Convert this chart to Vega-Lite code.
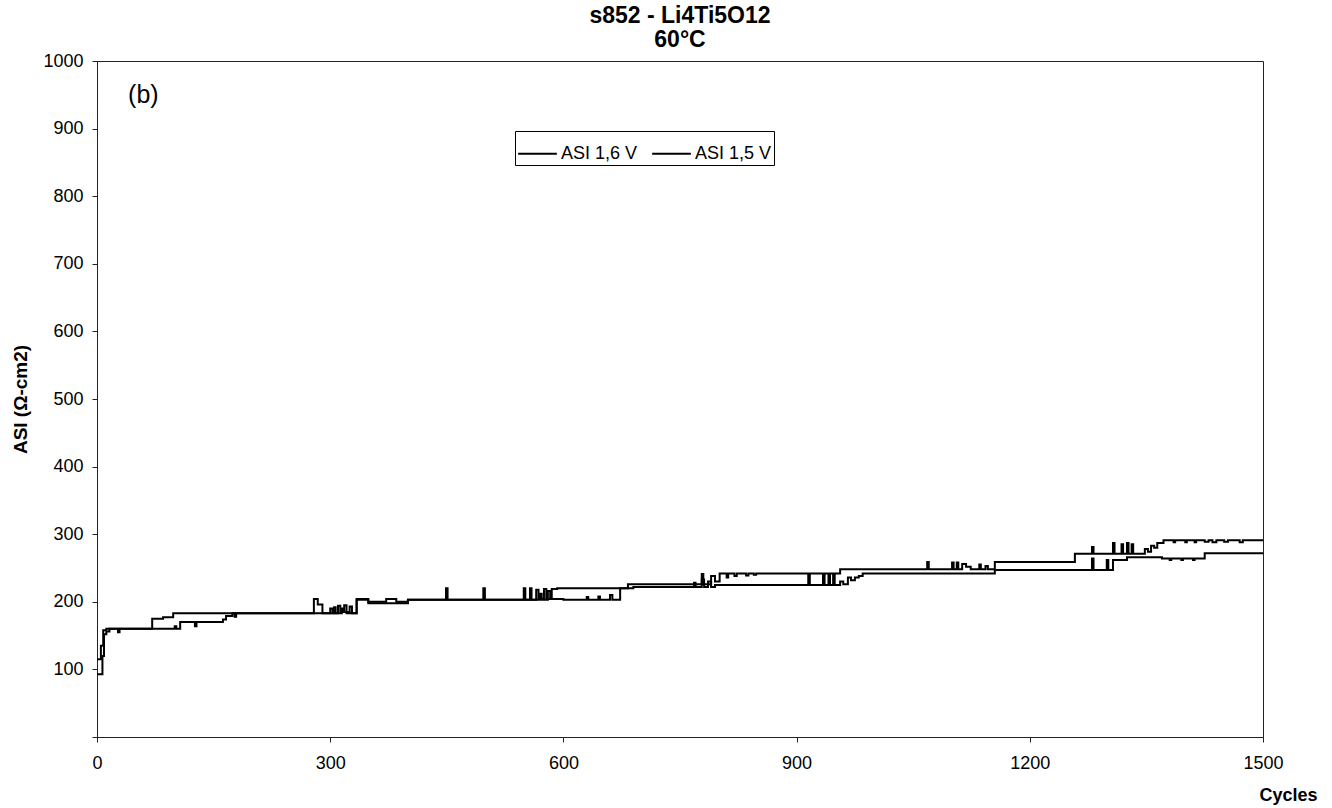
{
  "$schema": "https://vega.github.io/schema/vega-lite/v6.json",
  "width": 1166,
  "height": 676,
  "autosize": "none",
  "padding": {"left": 97, "top": 61, "right": 69, "bottom": 71},
  "background": "white",
  "config": {
    "font": "Liberation Sans",
    "view": {"stroke": "#222", "strokeWidth": 1}
  },
  "title": {
    "text": ["s852 - Li4Ti5O12", "60°C"],
    "fontSize": 23,
    "fontWeight": "bold",
    "font": "Liberation Sans",
    "lineHeight": 24,
    "offset": 0,
    "anchor": "middle",
    "color": "black"
  },
  "datasets": {
    "asi": [
      {"s": "ASI 1,6 V", "c": 0, "v": 115},
      {"s": "ASI 1,6 V", "c": 5, "v": 135},
      {"s": "ASI 1,6 V", "c": 8, "v": 158},
      {"s": "ASI 1,6 V", "c": 12, "v": 160},
      {"s": "ASI 1,6 V", "c": 27, "v": 155},
      {"s": "ASI 1,6 V", "c": 29, "v": 160},
      {"s": "ASI 1,6 V", "c": 71, "v": 175},
      {"s": "ASI 1,6 V", "c": 85, "v": 177},
      {"s": "ASI 1,6 V", "c": 98, "v": 183},
      {"s": "ASI 1,6 V", "c": 279, "v": 204},
      {"s": "ASI 1,6 V", "c": 284, "v": 196},
      {"s": "ASI 1,6 V", "c": 290, "v": 183},
      {"s": "ASI 1,6 V", "c": 300, "v": 190},
      {"s": "ASI 1,6 V", "c": 303, "v": 183},
      {"s": "ASI 1,6 V", "c": 310, "v": 194},
      {"s": "ASI 1,6 V", "c": 313, "v": 185},
      {"s": "ASI 1,6 V", "c": 318, "v": 195},
      {"s": "ASI 1,6 V", "c": 321, "v": 183},
      {"s": "ASI 1,6 V", "c": 334, "v": 204},
      {"s": "ASI 1,6 V", "c": 349, "v": 198},
      {"s": "ASI 1,6 V", "c": 400, "v": 203},
      {"s": "ASI 1,6 V", "c": 449, "v": 220},
      {"s": "ASI 1,6 V", "c": 451, "v": 203},
      {"s": "ASI 1,6 V", "c": 497, "v": 220},
      {"s": "ASI 1,6 V", "c": 499, "v": 203},
      {"s": "ASI 1,6 V", "c": 549, "v": 220},
      {"s": "ASI 1,6 V", "c": 551, "v": 203},
      {"s": "ASI 1,6 V", "c": 557, "v": 220},
      {"s": "ASI 1,6 V", "c": 559, "v": 203},
      {"s": "ASI 1,6 V", "c": 565, "v": 218},
      {"s": "ASI 1,6 V", "c": 568, "v": 205},
      {"s": "ASI 1,6 V", "c": 575, "v": 219},
      {"s": "ASI 1,6 V", "c": 578, "v": 204},
      {"s": "ASI 1,6 V", "c": 585, "v": 219},
      {"s": "ASI 1,6 V", "c": 592, "v": 220},
      {"s": "ASI 1,6 V", "c": 683, "v": 226},
      {"s": "ASI 1,6 V", "c": 778, "v": 241},
      {"s": "ASI 1,6 V", "c": 780, "v": 226},
      {"s": "ASI 1,6 V", "c": 790, "v": 238},
      {"s": "ASI 1,6 V", "c": 795, "v": 230},
      {"s": "ASI 1,6 V", "c": 801, "v": 242},
      {"s": "ASI 1,6 V", "c": 810, "v": 236},
      {"s": "ASI 1,6 V", "c": 812, "v": 242},
      {"s": "ASI 1,6 V", "c": 820, "v": 238},
      {"s": "ASI 1,6 V", "c": 823, "v": 242},
      {"s": "ASI 1,6 V", "c": 835, "v": 239},
      {"s": "ASI 1,6 V", "c": 838, "v": 242},
      {"s": "ASI 1,6 V", "c": 845, "v": 240},
      {"s": "ASI 1,6 V", "c": 848, "v": 242},
      {"s": "ASI 1,6 V", "c": 956, "v": 248},
      {"s": "ASI 1,6 V", "c": 1068, "v": 259},
      {"s": "ASI 1,6 V", "c": 1070, "v": 248},
      {"s": "ASI 1,6 V", "c": 1100, "v": 258},
      {"s": "ASI 1,6 V", "c": 1102, "v": 248},
      {"s": "ASI 1,6 V", "c": 1106, "v": 258},
      {"s": "ASI 1,6 V", "c": 1108, "v": 248},
      {"s": "ASI 1,6 V", "c": 1113, "v": 256},
      {"s": "ASI 1,6 V", "c": 1118, "v": 252},
      {"s": "ASI 1,6 V", "c": 1124, "v": 248},
      {"s": "ASI 1,6 V", "c": 1135, "v": 255},
      {"s": "ASI 1,6 V", "c": 1137, "v": 248},
      {"s": "ASI 1,6 V", "c": 1143, "v": 253},
      {"s": "ASI 1,6 V", "c": 1146, "v": 248},
      {"s": "ASI 1,6 V", "c": 1155, "v": 259},
      {"s": "ASI 1,6 V", "c": 1258, "v": 271},
      {"s": "ASI 1,6 V", "c": 1280, "v": 281},
      {"s": "ASI 1,6 V", "c": 1282, "v": 271},
      {"s": "ASI 1,6 V", "c": 1307, "v": 287},
      {"s": "ASI 1,6 V", "c": 1309, "v": 271},
      {"s": "ASI 1,6 V", "c": 1318, "v": 285},
      {"s": "ASI 1,6 V", "c": 1320, "v": 271},
      {"s": "ASI 1,6 V", "c": 1325, "v": 287},
      {"s": "ASI 1,6 V", "c": 1327, "v": 271},
      {"s": "ASI 1,6 V", "c": 1331, "v": 285},
      {"s": "ASI 1,6 V", "c": 1333, "v": 271},
      {"s": "ASI 1,6 V", "c": 1348, "v": 278},
      {"s": "ASI 1,6 V", "c": 1352, "v": 274},
      {"s": "ASI 1,6 V", "c": 1356, "v": 283},
      {"s": "ASI 1,6 V", "c": 1360, "v": 280},
      {"s": "ASI 1,6 V", "c": 1364, "v": 287},
      {"s": "ASI 1,6 V", "c": 1372, "v": 291},
      {"s": "ASI 1,6 V", "c": 1385, "v": 288},
      {"s": "ASI 1,6 V", "c": 1387, "v": 291},
      {"s": "ASI 1,6 V", "c": 1400, "v": 288},
      {"s": "ASI 1,6 V", "c": 1402, "v": 291},
      {"s": "ASI 1,6 V", "c": 1412, "v": 288},
      {"s": "ASI 1,6 V", "c": 1414, "v": 291},
      {"s": "ASI 1,6 V", "c": 1425, "v": 289},
      {"s": "ASI 1,6 V", "c": 1430, "v": 291},
      {"s": "ASI 1,6 V", "c": 1435, "v": 288},
      {"s": "ASI 1,6 V", "c": 1440, "v": 291},
      {"s": "ASI 1,6 V", "c": 1450, "v": 289},
      {"s": "ASI 1,6 V", "c": 1455, "v": 291},
      {"s": "ASI 1,6 V", "c": 1470, "v": 288},
      {"s": "ASI 1,6 V", "c": 1474, "v": 291},
      {"s": "ASI 1,6 V", "c": 1500, "v": 291},
      {"s": "ASI 1,5 V", "c": 0, "v": 93},
      {"s": "ASI 1,5 V", "c": 7, "v": 120},
      {"s": "ASI 1,5 V", "c": 9, "v": 152},
      {"s": "ASI 1,5 V", "c": 12, "v": 156},
      {"s": "ASI 1,5 V", "c": 16, "v": 160},
      {"s": "ASI 1,5 V", "c": 98, "v": 160},
      {"s": "ASI 1,5 V", "c": 100, "v": 164},
      {"s": "ASI 1,5 V", "c": 102, "v": 160},
      {"s": "ASI 1,5 V", "c": 107, "v": 170},
      {"s": "ASI 1,5 V", "c": 126, "v": 164},
      {"s": "ASI 1,5 V", "c": 128, "v": 170},
      {"s": "ASI 1,5 V", "c": 162, "v": 174},
      {"s": "ASI 1,5 V", "c": 166, "v": 179},
      {"s": "ASI 1,5 V", "c": 174, "v": 183},
      {"s": "ASI 1,5 V", "c": 177, "v": 178},
      {"s": "ASI 1,5 V", "c": 179, "v": 183},
      {"s": "ASI 1,5 V", "c": 305, "v": 192},
      {"s": "ASI 1,5 V", "c": 307, "v": 183},
      {"s": "ASI 1,5 V", "c": 315, "v": 190},
      {"s": "ASI 1,5 V", "c": 317, "v": 185},
      {"s": "ASI 1,5 V", "c": 325, "v": 193},
      {"s": "ASI 1,5 V", "c": 328, "v": 183},
      {"s": "ASI 1,5 V", "c": 334, "v": 203},
      {"s": "ASI 1,5 V", "c": 349, "v": 200},
      {"s": "ASI 1,5 V", "c": 372, "v": 204},
      {"s": "ASI 1,5 V", "c": 385, "v": 200},
      {"s": "ASI 1,5 V", "c": 400, "v": 203},
      {"s": "ASI 1,5 V", "c": 570, "v": 212},
      {"s": "ASI 1,5 V", "c": 572, "v": 203},
      {"s": "ASI 1,5 V", "c": 580, "v": 216},
      {"s": "ASI 1,5 V", "c": 583, "v": 204},
      {"s": "ASI 1,5 V", "c": 600, "v": 203},
      {"s": "ASI 1,5 V", "c": 630, "v": 207},
      {"s": "ASI 1,5 V", "c": 632, "v": 203},
      {"s": "ASI 1,5 V", "c": 645, "v": 208},
      {"s": "ASI 1,5 V", "c": 647, "v": 203},
      {"s": "ASI 1,5 V", "c": 660, "v": 210},
      {"s": "ASI 1,5 V", "c": 663, "v": 203},
      {"s": "ASI 1,5 V", "c": 673, "v": 220},
      {"s": "ASI 1,5 V", "c": 690, "v": 222},
      {"s": "ASI 1,5 V", "c": 768, "v": 228},
      {"s": "ASI 1,5 V", "c": 770, "v": 222},
      {"s": "ASI 1,5 V", "c": 778, "v": 233},
      {"s": "ASI 1,5 V", "c": 781, "v": 222},
      {"s": "ASI 1,5 V", "c": 786, "v": 230},
      {"s": "ASI 1,5 V", "c": 790, "v": 222},
      {"s": "ASI 1,5 V", "c": 795, "v": 225},
      {"s": "ASI 1,5 V", "c": 915, "v": 241},
      {"s": "ASI 1,5 V", "c": 917, "v": 225},
      {"s": "ASI 1,5 V", "c": 934, "v": 241},
      {"s": "ASI 1,5 V", "c": 936, "v": 225},
      {"s": "ASI 1,5 V", "c": 941, "v": 241},
      {"s": "ASI 1,5 V", "c": 943, "v": 225},
      {"s": "ASI 1,5 V", "c": 947, "v": 241},
      {"s": "ASI 1,5 V", "c": 949, "v": 225},
      {"s": "ASI 1,5 V", "c": 956, "v": 230},
      {"s": "ASI 1,5 V", "c": 960, "v": 226},
      {"s": "ASI 1,5 V", "c": 966, "v": 236},
      {"s": "ASI 1,5 V", "c": 970, "v": 232},
      {"s": "ASI 1,5 V", "c": 975, "v": 236},
      {"s": "ASI 1,5 V", "c": 980, "v": 238},
      {"s": "ASI 1,5 V", "c": 985, "v": 242},
      {"s": "ASI 1,5 V", "c": 1149, "v": 242},
      {"s": "ASI 1,5 V", "c": 1155, "v": 247},
      {"s": "ASI 1,5 V", "c": 1280, "v": 264},
      {"s": "ASI 1,5 V", "c": 1282, "v": 247},
      {"s": "ASI 1,5 V", "c": 1299, "v": 262},
      {"s": "ASI 1,5 V", "c": 1301, "v": 247},
      {"s": "ASI 1,5 V", "c": 1307, "v": 262},
      {"s": "ASI 1,5 V", "c": 1325, "v": 266},
      {"s": "ASI 1,5 V", "c": 1370, "v": 264},
      {"s": "ASI 1,5 V", "c": 1380, "v": 262},
      {"s": "ASI 1,5 V", "c": 1382, "v": 264},
      {"s": "ASI 1,5 V", "c": 1395, "v": 262},
      {"s": "ASI 1,5 V", "c": 1397, "v": 264},
      {"s": "ASI 1,5 V", "c": 1410, "v": 262},
      {"s": "ASI 1,5 V", "c": 1412, "v": 264},
      {"s": "ASI 1,5 V", "c": 1425, "v": 272},
      {"s": "ASI 1,5 V", "c": 1500, "v": 272}
    ],
    "label": [{"t": "(b)", "c": 40, "v": 950}]
  },
  "layer": [
    {
      "data": {"name": "asi"},
      "mark": {"type": "line", "interpolate": "step-after", "strokeWidth": 2, "clip": true},
      "encoding": {
        "x": {
          "field": "c", "type": "quantitative",
          "scale": {"domain": [0, 1500], "nice": false, "zero": false},
          "axis": {
            "values": [0, 300, 600, 900, 1200, 1500],
            "format": "d",
            "grid": false,
            "title": "Cycles",
            "titleFontSize": 18,
            "titleFontWeight": "bold",
            "titleColor": "black",
            "titleX": 1220,
            "titleY": 63,
            "titleAlign": "right",
            "titleAnchor": null,
            "titleBaseline": "alphabetic",
            "labelFontSize": 18,
            "labelColor": "black",
            "labelPadding": 12,
            "tickSize": 5,
            "tickColor": "#222",
            "domainColor": "#222",
            "labelFlush": false
          }
        },
        "y": {
          "field": "v", "type": "quantitative",
          "scale": {"domain": [0, 1000], "nice": false},
          "axis": {
            "values": [0, 100, 200, 300, 400, 500, 600, 700, 800, 900, 1000],
            "format": "d",
            "labelExpr": "datum.value == 0 ? '' : datum.label",
            "grid": false,
            "title": "ASI (Ω-cm2)",
            "titleFontSize": 19,
            "titleFontWeight": "bold",
            "titleColor": "black",
            "titleX": -77,
            "titleY": 338,
            "titleAngle": 270,
            "titleAlign": "center",
            "titleBaseline": "middle",
            "labelFontSize": 18,
            "labelColor": "black",
            "labelPadding": 9,
            "tickSize": 5,
            "tickColor": "#222",
            "domainColor": "#222",
            "labelFlush": false
          }
        },
        "color": {
          "field": "s", "type": "nominal",
          "scale": {"domain": ["ASI 1,6 V", "ASI 1,5 V"], "range": ["black", "black"]},
          "legend": {
            "title": null,
            "orient": "none",
            "legendX": 418,
            "legendY": 70,
            "direction": "horizontal",
            "strokeColor": "black",
            "fillColor": "white",
            "padding": 2,
            "symbolType": "stroke",
            "symbolSize": 1500,
            "symbolStrokeWidth": 2,
            "labelFontSize": 18,
            "labelColor": "black",
            "labelFont": "Liberation Sans",
            "columnPadding": 10,
            "labelOffset": 3
          }
        }
      }
    },
    {
      "data": {"name": "label"},
      "mark": {"type": "text", "align": "left", "baseline": "middle", "fontSize": 25, "font": "Liberation Sans", "color": "black"},
      "encoding": {
        "x": {"field": "c", "type": "quantitative"},
        "y": {"field": "v", "type": "quantitative"},
        "text": {"field": "t"}
      }
    }
  ]
}
